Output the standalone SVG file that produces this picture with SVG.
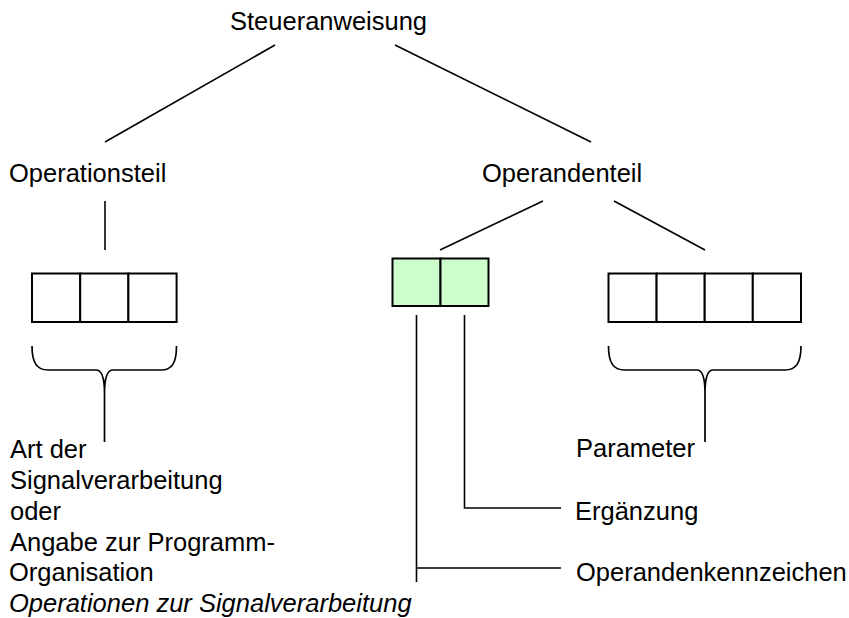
<svg xmlns="http://www.w3.org/2000/svg" width="849" height="618" viewBox="0 0 849 618">
  <style>
    text { font-family: "Liberation Sans", Arial, sans-serif; font-size: 25.5px; fill: #000; }
    .it { font-style: italic; }
    .ln { fill: none; stroke: #000; stroke-width: 1.6; }
    .cell { fill: #fff; stroke: #000; stroke-width: 2; }
    .cell.g { fill: #ccffcc; }
    .brace { fill: none; stroke: #000; stroke-width: 1.7; stroke-linejoin: round; }
  </style>
  <rect width="849" height="618" fill="#fff"/>

  <!-- connectors -->
  <g id="connectors">
    <line class="ln" x1="275" y1="45" x2="105" y2="142"/>
    <line class="ln" x1="395" y1="45" x2="591" y2="142"/>
    <line class="ln" x1="105" y1="201" x2="105" y2="250"/>
    <line class="ln" x1="543" y1="201" x2="440" y2="250"/>
    <line class="ln" x1="614" y1="201" x2="705" y2="250"/>
    <!-- leaders from the green field -->
    <path class="ln" d="M416.5,315 V582 M416.5,568 H561"/>
    <path class="ln" d="M464.5,315 V508 H561"/>
    <!-- braces -->
    <path class="brace" d="M32,346 C32,363 37,370 48,370 L96,370 C101,370 104.5,376 104.5,393 C104.5,376 108,370 113,370 L161,370 C172,370 176.5,363 176.5,346 M104.5,393 V442"/>
    <path class="brace" d="M608.5,346 C608.5,363 613.5,370 624.5,370 L697,370 C702,370 705,376 705,393 C705,376 708,370 713,370 L785,370 C796,370 801,363 801,346 M705,393 V442"/>
  </g>

  <g id="steueranweisung">
    <text x="230" y="30">Steueranweisung</text>
  </g>

  <g id="operationsteil">
    <text x="9" y="182">Operationsteil</text>
  </g>

  <g id="operandenteil">
    <text x="482" y="182">Operandenteil</text>
  </g>

  <g id="operation-cells">
    <rect class="cell" x="32" y="273.5" width="48.2" height="48.5"/>
    <rect class="cell" x="80.2" y="273.5" width="48.2" height="48.5"/>
    <rect class="cell" x="128.4" y="273.5" width="48.2" height="48.5"/>
  </g>

  <g id="kennzeichen-cells">
    <rect class="cell g" x="392.5" y="258.5" width="48" height="47.5"/>
    <rect class="cell g" x="440.5" y="258.5" width="48" height="47.5"/>
  </g>

  <g id="parameter-cells">
    <rect class="cell" x="608.5" y="273.5" width="48.1" height="48.5"/>
    <rect class="cell" x="656.6" y="273.5" width="48.1" height="48.5"/>
    <rect class="cell" x="704.7" y="273.5" width="48.1" height="48.5"/>
    <rect class="cell" x="752.8" y="273.5" width="48.2" height="48.5"/>
  </g>

  <g id="art-der-signalverarbeitung">
    <text x="10" y="458">Art der</text>
    <text x="10" y="489">Signalverarbeitung</text>
    <text x="10" y="520">oder</text>
    <text x="10" y="550.5">Angabe zur Programm-</text>
    <text x="9" y="581">Organisation</text>
    <text class="it" x="9" y="612">Operationen zur Signalverarbeitung</text>
  </g>

  <g id="parameter">
    <text x="576" y="457">Parameter</text>
  </g>

  <g id="ergaenzung">
    <text x="575" y="520">Ergänzung</text>
  </g>

  <g id="operandenkennzeichen">
    <text x="576" y="581">Operandenkennzeichen</text>
  </g>
</svg>
